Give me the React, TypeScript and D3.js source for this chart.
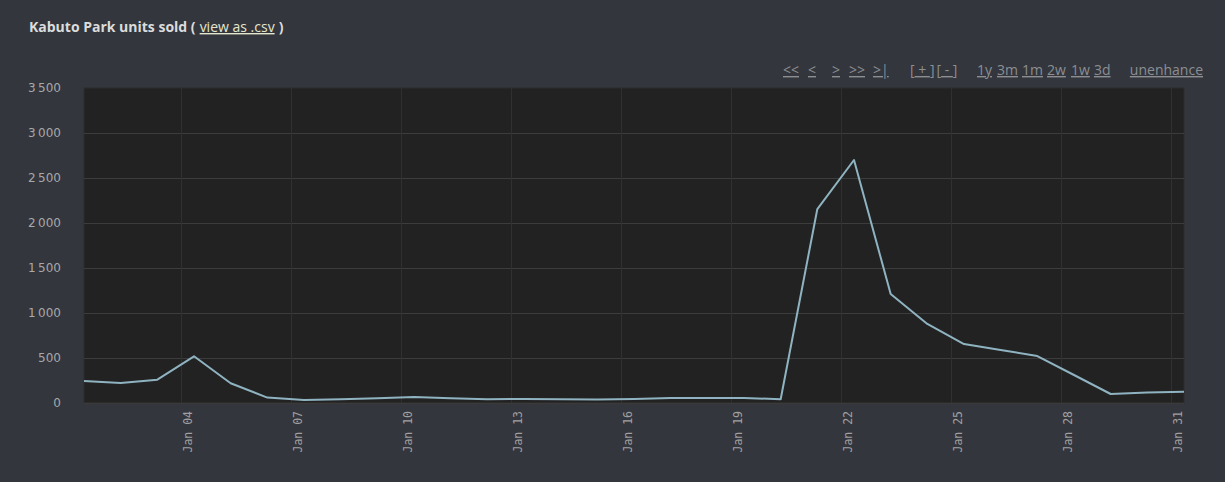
import React from "react";
import * as d3 from "d3";

const days: string[] = [
  "2024-01-01","2024-01-02","2024-01-03","2024-01-04","2024-01-05","2024-01-06","2024-01-07",
  "2024-01-08","2024-01-09","2024-01-10","2024-01-11","2024-01-12","2024-01-13","2024-01-14",
  "2024-01-15","2024-01-16","2024-01-17","2024-01-18","2024-01-19","2024-01-20","2024-01-21",
  "2024-01-22","2024-01-23","2024-01-24","2024-01-25","2024-01-26","2024-01-27","2024-01-28",
  "2024-01-29","2024-01-30","2024-01-31",
];
const sampleTime = "T08:30:00Z";
const unitsSold: number[] = [
  245, 222, 259, 519, 219, 60, 32, 42, 52, 67, 52, 42, 45, 42, 38, 45,
  55, 55, 55, 42, 2155, 2700, 1211, 878, 655, 589, 522, 311, 100, 117, 126,
];
const yTicks: number[] = [0, 500, 1000, 1500, 2000, 2500, 3000, 3500];
const title = "Kabuto Park units sold";
const csvLink = "view as .csv";
const navLeft: { label: string; x: number }[] = [
  { label: "<<", x: 783 },
  { label: "<", x: 808 },
  { label: ">", x: 832 },
  { label: ">>", x: 849 },
  { label: ">|", x: 873 },
];
const zoomLinks: { label: string; x: number }[] = [
  { label: "1y", x: 977 },
  { label: "3m", x: 997 },
  { label: "1m", x: 1022 },
  { label: "2w", x: 1047 },
  { label: "1w", x: 1071 },
  { label: "3d", x: 1094 },
];

const W = 1225;
const H = 482;
const M = { left: 84, right: 1184, top: 88, bottom: 403 };

export default function App() {
  const data = days.map((d, i) => ({ t: new Date(d + sampleTime), v: unitsSold[i] }));
  const x = d3
    .scaleUtc()
    .domain([data[0].t, data[data.length - 1].t])
    .range([M.left, M.right]);
  const y = d3.scaleLinear().domain([0, 3500]).range([M.bottom, M.top]);
  const xTicks = x.ticks(d3.utcDay.every(3) as any);
  const fmtY = (v: number) => d3.format(",")(v).replace(/,/g, "\u2009");
  const fmtX = d3.utcFormat("%b %d");
  const line = d3
    .line<{ t: Date; v: number }>()
    .x((d) => x(d.t))
    .y((d) => y(d.v));

  const sans = "'Open Sans', 'DejaVu Sans', sans-serif";
  const linkColor = "#8c8e92";

  return (
    <svg
      width={W}
      height={H}
      style={{ position: "absolute", left: 0, top: 0, display: "block" }}
    >
      <rect x={0} y={0} width={W} height={H} fill="#33363d" />
      <text x={29} y={32} fontFamily={sans} fontSize={14} fill="#dcdcdc">
        <tspan fontWeight="bold">{title} (</tspan>
        <tspan fill="#e6e6cf" textDecoration="underline" dx={4}>{csvLink}</tspan>
        <tspan fontWeight="bold" dx={4}>)</tspan>
      </text>

      {navLeft.map((n) => (
        <text key={n.label} x={n.x} y={75} fontFamily={sans} fontSize={14} fill={linkColor} textDecoration="underline">
          {n.label}
        </text>
      ))}
      <text x={910} y={75} fontFamily={sans} fontSize={14} fill={linkColor}>
        [<tspan textDecoration="underline"> + </tspan>]
        <tspan dx={2}>[</tspan><tspan textDecoration="underline"> - </tspan>]
      </text>
      {zoomLinks.map((n) => (
        <text key={n.label} x={n.x} y={75} fontFamily={sans} fontSize={14} fill={linkColor} textDecoration="underline">
          {n.label}
        </text>
      ))}
      <text x={1203} y={75} textAnchor="end" fontFamily={sans} fontSize={14} fill={linkColor} textDecoration="underline">
        unenhance
      </text>

      <rect
        x={M.left}
        y={M.top}
        width={M.right - M.left}
        height={M.bottom - M.top}
        fill="#222222"
        stroke="#2c2c2c"
        strokeWidth={1}
      />
      {yTicks.slice(1, -1).map((t) => (
        <line key={t} x1={M.left} x2={M.right} y1={y(t) + 0.5} y2={y(t) + 0.5} stroke="#3c3c3c" strokeWidth={1} />
      ))}
      {xTicks.map((t) => (
        <line
          key={+t}
          x1={Math.round(x(t)) + 0.5}
          x2={Math.round(x(t)) + 0.5}
          y1={M.top}
          y2={M.bottom}
          stroke="#303030"
          strokeWidth={1}
        />
      ))}
      <line x1={M.left} x2={M.right} y1={M.bottom + 0.5} y2={M.bottom + 0.5} stroke="#3a3a3a" strokeWidth={1.5} />

      {yTicks.map((t) => (
        <text
          key={t}
          x={61}
          y={y(t)}
          dy="0.35em"
          textAnchor="end"
          fontFamily="'DejaVu Sans', sans-serif"
          fontSize={12}
          fill="#a8a8a8"
        >
          {fmtY(t)}
        </text>
      ))}
      {xTicks.map((t) => (
        <text
          key={+t}
          transform={`translate(${x(t) + 7},411) rotate(-90)`}
          dy="0.35em"
          textAnchor="end"
          fontFamily="'DejaVu Sans Mono', monospace"
          fontSize={11.5}
          fill="#a0a0a0"
        >
          {fmtX(t)}
        </text>
      ))}

      <path d={line(data) || ""} fill="none" stroke="#8fb3c1" strokeWidth={2} strokeLinejoin="round" />
    </svg>
  );
}
